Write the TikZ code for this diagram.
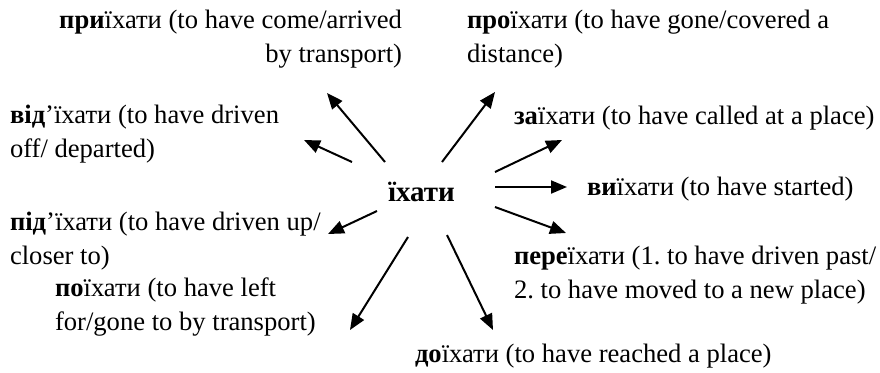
\documentclass[tikz,border=0pt]{standalone}
\usepackage{fontspec}
\setmainfont{Liberation Serif}
\newfontfamily\tnr{Liberation Serif}
\usetikzlibrary{arrows.meta}
\tikzset{
  lbl/.style={inner sep=0pt, outer sep=0pt, font=\tnr\fontsize{26.6bp}{33.5bp}\selectfont\frenchspacing},
  conn/.style={line width=2bp, -{Triangle[length=16bp,width=13bp]}}
}
\begin{document}
\begin{tikzpicture}[x=1bp,y=-1bp]
\useasboundingbox (0,0) rectangle (880,372);
% labels (base anchor = baseline of the last line)
\node[lbl, anchor=base east, align=right] (pry) at (402,62) {\textbf{при}їхати (to have come/arrived\\by transport)};
\node[lbl, anchor=base west, align=left] (pro) at (467,62) {\textbf{про}їхати (to have gone/covered a\\distance)};
\node[lbl, anchor=base west, align=left] (vid) at (10,157) {\textbf{від}’їхати (to have driven\\off/ departed)};
\node[lbl, anchor=base west, align=left] (za) at (514,124) {\textbf{за}їхати (to have called at a place)};
\node[lbl, anchor=base west, font=\tnr\fontsize{29bp}{33.5bp}\selectfont\bfseries] (root) at (388,201) {їхати};
\node[lbl, anchor=base west, align=left] (vy) at (587,195) {\textbf{ви}їхати (to have started)};
\node[lbl, anchor=base west, align=left] (pid) at (10,264) {\textbf{під}’їхати (to have driven up/\\closer to)};
\node[lbl, anchor=base west, align=left] (pere) at (514,298) {\textbf{пере}їхати (1. to have driven past/\\2. to have moved to a new place)};
\node[lbl, anchor=base west, align=left] (po) at (55,330) {\textbf{по}їхати (to have left\\for/gone to by transport)};
\node[lbl, anchor=base west, align=left] (do) at (415,362) {\textbf{до}їхати (to have reached a place)};
% arrow endpoints
\coordinate (pryT) at (385,162); \coordinate (pryH) at (327,93);
\coordinate (vidT) at (352,162); \coordinate (vidH) at (304,140);
\coordinate (proT) at (442,162); \coordinate (proH) at (495,92);
\coordinate (zaT) at (495,172);  \coordinate (zaH) at (562,140);
\coordinate (vyT) at (495,187);  \coordinate (vyH) at (567,187);
\coordinate (pereT) at (495,207); \coordinate (pereH) at (566,233);
\coordinate (pidT) at (377,211); \coordinate (pidH) at (328,234);
\coordinate (poT) at (408,237);  \coordinate (poH) at (350,330);
\coordinate (doT) at (447,235);  \coordinate (doH) at (493,330);
\foreach \n in {pry,vid,pro,za,vy,pere,pid,po,do}
  \draw[conn] (\n T) -- (\n H);
\end{tikzpicture}
\end{document}
